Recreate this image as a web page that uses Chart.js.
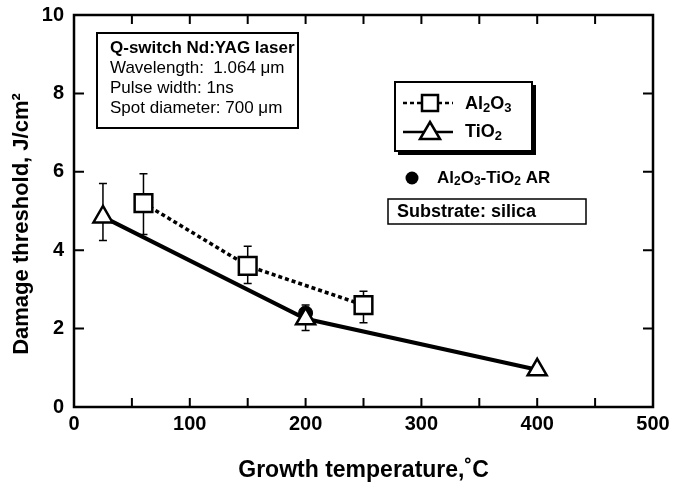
<!DOCTYPE html>
<html>
<head>
<meta charset="utf-8">
<script src="https://cdn.jsdelivr.net/npm/chart.js@4"></script>
<style>
  html, body { margin: 0; padding: 0; background: #fff; }
</style>
</head>
<body>
<canvas id="chart" width="675" height="488"></canvas>
<script>
// data
const al2o3Temp = [60, 150, 250]
const al2o3Thr = [5.2, 3.6, 2.6]
const al2o3Low = [4.4, 3.15, 2.15]
const al2o3High = [5.95, 4.1, 2.95]

const tio2Temp = [25, 200, 400]
const tio2Thr = [4.85, 2.25, 0.95]
const tio2Low = [4.25, 1.95, null]
const tio2High = [5.7, 2.6, null]

const arTemp = [200]
const arThr = [2.4]

const xTicks = [0, 100, 200, 300, 400, 500]
const yTicks = [0, 2, 4, 6, 8, 10]

const FONT = "'Liberation Sans', Arial, Helvetica, sans-serif"

const toPoints = (xs, ys) => xs.map((x, i) => ({ x: x, y: ys[i] }))

// subscript-aware text
function richText (ctx, x, y, parts, size, bold) {
  ctx.textBaseline = 'middle'
  ctx.textAlign = 'left'
  parts.forEach(p => {
    const sub = typeof p !== 'string'
    const t = sub ? p.sub : p
    const s = sub ? Math.round(size * 0.72) : size
    ctx.font = (bold ? 'bold ' : '') + s + 'px ' + FONT
    ctx.fillText(t, x, y + (sub ? size * 0.22 : 0))
    x += ctx.measureText(t).width
  })
  return x
}

const errorBars = {
  id: 'errorBars',
  beforeDatasetsDraw (chart) {
    const { ctx, scales: { x, y } } = chart
    const sets = [
      [al2o3Temp, al2o3Low, al2o3High],
      [tio2Temp, tio2Low, tio2High]
    ]
    ctx.save()
    ctx.strokeStyle = '#000'
    ctx.lineWidth = 1.5
    sets.forEach(([xs, lo, hi]) => {
      xs.forEach((v, i) => {
        if (lo[i] == null) return
        const px = x.getPixelForValue(v)
        const p1 = y.getPixelForValue(lo[i])
        const p2 = y.getPixelForValue(hi[i])
        ctx.beginPath()
        ctx.moveTo(px, p1); ctx.lineTo(px, p2)
        ctx.moveTo(px - 4, p1); ctx.lineTo(px + 4, p1)
        ctx.moveTo(px - 4, p2); ctx.lineTo(px + 4, p2)
        ctx.stroke()
      })
    })
    ctx.restore()
  }
}

// frame with inward ticks on all four sides
const frame = {
  id: 'frame',
  afterDatasetsDraw (chart) {
    const { ctx, chartArea: a, scales: { x, y } } = chart
    ctx.save()
    ctx.strokeStyle = '#000'
    ctx.lineWidth = 2.5
    ctx.strokeRect(a.left, a.top, a.right - a.left, a.bottom - a.top)
    ctx.lineWidth = 2
    ctx.beginPath()
    x.ticks.forEach(t => {
      const px = x.getPixelForValue(t.value)
      if (px <= a.left + 1 || px >= a.right - 1) return
      ctx.moveTo(px, a.bottom); ctx.lineTo(px, a.bottom - 9)
      ctx.moveTo(px, a.top); ctx.lineTo(px, a.top + 9)
    })
    y.ticks.forEach(t => {
      const py = y.getPixelForValue(t.value)
      if (py >= a.bottom - 1) return
      ctx.moveTo(a.left, py); ctx.lineTo(a.left + 10, py)
      ctx.moveTo(a.right, py); ctx.lineTo(a.right - 10, py)
    })
    ctx.stroke()

    // y axis title, drawn by hand so it can sit where the original has it
    ctx.translate(22, 224)
    ctx.rotate(-Math.PI / 2)
    ctx.fillStyle = '#000'
    ctx.textAlign = 'center'
    ctx.textBaseline = 'middle'
    ctx.font = 'bold 22px ' + FONT
    ctx.fillText('Damage threshold, J/cm\u00b2', 0, 0)
    ctx.restore()
  }
}

const notes = {
  id: 'notes',
  afterDraw (chart) {
    const ctx = chart.ctx
    ctx.save()
    ctx.fillStyle = '#000'
    ctx.strokeStyle = '#000'

    // laser box
    ctx.lineWidth = 2
    ctx.fillStyle = '#fff'
    ctx.fillRect(97, 33, 201, 95)
    ctx.strokeRect(97, 33, 201, 95)
    ctx.fillStyle = '#000'
    richText(ctx, 110, 48, ['Q-switch Nd:YAG laser'], 17, true)
    richText(ctx, 110, 68, ['Wavelength:  1.064 \u03bcm'], 17, false)
    richText(ctx, 110, 88, ['Pulse width: 1ns'], 17, false)
    richText(ctx, 110, 108, ['Spot diameter: 700 \u03bcm'], 17, false)

    // legend box with shadow
    ctx.fillRect(398, 85, 138, 70)
    ctx.fillStyle = '#fff'
    ctx.fillRect(395, 82, 137, 69)
    ctx.lineWidth = 2
    ctx.strokeRect(395, 82, 137, 69)
    ctx.fillStyle = '#000'

    ctx.lineWidth = 2.5
    ctx.setLineDash([4, 3])
    ctx.beginPath(); ctx.moveTo(403, 103); ctx.lineTo(453, 103); ctx.stroke()
    ctx.setLineDash([])
    ctx.beginPath(); ctx.moveTo(403, 132); ctx.lineTo(453, 132); ctx.stroke()
    ctx.fillStyle = '#fff'
    ctx.fillRect(422, 95, 16, 16)
    ctx.strokeRect(422, 95, 16, 16)
    ctx.beginPath()
    ctx.moveTo(430, 122); ctx.lineTo(440, 139); ctx.lineTo(420, 139); ctx.closePath()
    ctx.fill(); ctx.stroke()
    ctx.fillStyle = '#000'
    richText(ctx, 465, 104, ['Al', { sub: '2' }, 'O', { sub: '3' }], 18, true)
    richText(ctx, 465, 132, ['TiO', { sub: '2' }], 18, true)

    // AR marker
    ctx.beginPath(); ctx.arc(412, 178, 6.5, 0, Math.PI * 2); ctx.fill()
    richText(ctx, 437, 178, ['Al', { sub: '2' }, 'O', { sub: '3' }, '-TiO', { sub: '2' }, ' AR'], 17, true)

    // substrate box
    ctx.lineWidth = 1.5
    ctx.strokeRect(388, 199, 198, 25)
    richText(ctx, 397, 212, ['Substrate: silica'], 18, true)

    ctx.restore()
  }
}

new Chart(document.getElementById('chart').getContext('2d'), {
  type: 'scatter',
  data: {
    datasets: [
      {
        label: 'TiO2',
        data: toPoints(tio2Temp, tio2Thr),
        showLine: true,
        borderColor: '#000',
        borderWidth: 4,
        pointStyle: 'triangle',
        pointRadius: 11,
        pointBorderWidth: 2.5,
        pointBackgroundColor: '#fff',
        pointBorderColor: '#000',
        order: 1
      },
      {
        label: 'Al2O3',
        data: toPoints(al2o3Temp, al2o3Thr),
        showLine: true,
        borderColor: '#000',
        borderWidth: 3.5,
        borderDash: [4, 3],
        pointStyle: 'rect',
        pointRadius: 12.5,
        pointBorderWidth: 2.5,
        pointBackgroundColor: '#fff',
        pointBorderColor: '#000',
        order: 2
      },
      {
        label: 'Al2O3-TiO2 AR',
        data: toPoints(arTemp, arThr),
        pointStyle: 'circle',
        pointRadius: 7,
        pointBackgroundColor: '#000',
        pointBorderColor: '#000',
        order: 3
      }
    ]
  },
  options: {
    responsive: false,
    animation: false,
    layout: { padding: { top: 10, right: 22, left: 0, bottom: 0 } },
    plugins: {
      legend: { display: false },
      tooltip: { enabled: false }
    },
    scales: {
      x: {
        min: 0,
        max: 500,
        afterFit (scale) { scale.height = 81; scale.paddingRight = 0; scale.paddingLeft = 0 },
        grid: { display: false, drawTicks: false },
        border: { display: false },
        ticks: {
          stepSize: 50,
          padding: 5,
          color: '#000',
          font: { family: FONT, size: 20, weight: 'bold' },
          maxRotation: 0,
          autoSkip: false,
          callback: v => xTicks.includes(v) ? String(v) : ''
        },
        title: {
          display: true,
          text: 'Growth temperature,\u02daC',
          color: '#000',
          font: { family: FONT, size: 23, weight: 'bold' },
          padding: { top: 5 }
        }
      },
      y: {
        min: 0,
        max: 10,
        afterFit (scale) { scale.width = 74; scale.paddingTop = 0; scale.paddingBottom = 0 },
        grid: { display: false, drawTicks: false },
        border: { display: false },
        ticks: {
          stepSize: 2,
          padding: 10,
          color: '#000',
          font: { family: FONT, size: 20, weight: 'bold' },
          callback: v => yTicks.includes(v) ? String(v) : ''
        }
      }
    }
  },
  plugins: [errorBars, frame, notes]
})
</script>
</body>
</html>
